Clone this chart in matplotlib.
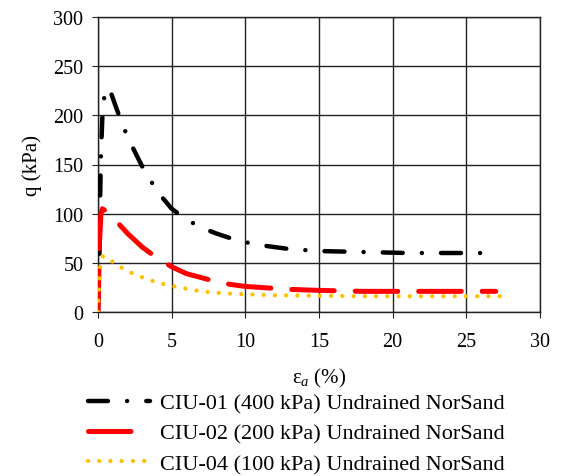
import matplotlib
matplotlib.use("Agg")
import matplotlib.pyplot as plt

# Data
x_ciu01 = [0.0, 0.1, 0.15, 0.2, 0.3, 0.45, 0.6, 0.9, 1.3, 2.0, 3.0, 4.0, 5.0, 6.0, 7.0, 8.0, 9.0, 10.0, 11.5, 13.0, 15.0, 18.0, 21.0, 24.0, 26.7]
q_ciu01 = [0.0, 60.0, 120.0, 160.0, 200.0, 222.0, 228.0, 222.0, 205.0, 178.0, 148.0, 123.0, 105.0, 94.0, 86.0, 80.0, 75.0, 71.0, 67.0, 64.0, 62.0, 61.0, 60.0, 60.0, 60.0]

x_ciu02 = [0.0, 0.1, 0.2, 0.3, 0.5, 0.8, 1.2, 2.0, 3.0, 4.0, 5.0, 6.0, 7.0, 8.0, 9.0, 10.0, 11.0, 13.0, 15.0, 18.0, 21.0, 24.0, 27.0]
q_ciu02 = [0.0, 70.0, 100.0, 105.0, 103.0, 99.0, 93.0, 80.0, 66.0, 55.0, 46.0, 39.0, 35.0, 31.0, 28.0, 26.0, 25.0, 23.0, 22.0, 21.0, 21.0, 21.0, 21.0]

x_ciu04 = [0.0, 0.1, 0.2, 0.35, 0.6, 1.0, 1.5, 2.5, 4.0, 5.5, 7.0, 8.5, 10.0, 12.0, 15.0, 18.0, 22.0, 25.0, 28.0]
q_ciu04 = [0.0, 40.0, 53.0, 57.0, 55.0, 51.0, 46.0, 38.0, 30.0, 25.0, 21.0, 19.0, 18.0, 17.0, 16.5, 16.0, 16.0, 16.0, 16.0]

labels = ["CIU-01 (400 kPa) Undrained NorSand",
          "CIU-02 (200 kPa) Undrained NorSand",
          "CIU-04 (100 kPa) Undrained NorSand"]

xticks = [0, 5, 10, 15, 20, 25, 30]
yticks = [0, 50, 100, 150, 200, 250, 300]

plt.rcParams['font.family'] = ['Liberation Serif', 'DejaVu Serif']
plt.rcParams['mathtext.fontset'] = 'custom'
plt.rcParams['mathtext.rm'] = 'Liberation Serif'
plt.rcParams['mathtext.it'] = 'Liberation Serif:italic'

fig = plt.figure(figsize=(5.65, 4.77), dpi=100)
ax = fig.add_axes([98/565, 1 - 313/477, 442/565, 295/477])

l1, = ax.plot(x_ciu01, q_ciu01, color='black', lw=3.2, dashes=(4.5, 4.3, 0.01, 4.3),
              dash_capstyle='round', label=labels[0], zorder=3)
l2, = ax.plot(x_ciu02, q_ciu02, color='#FF0000', lw=3.6, dashes=(8.5, 4.2),
              dash_capstyle='round', label=labels[1], zorder=3)
l3, = ax.plot(x_ciu04, q_ciu04, color='#FFC000', lw=3.1, dashes=(0.01, 2.6),
              dash_capstyle='round', label=labels[2], zorder=4)

ax.set_xlim(0, 30)
ax.set_ylim(0, 300)
ax.set_xticks(xticks)
ax.set_yticks(yticks)
ax.grid(True, color='#222222', lw=1.0)
ax.set_axisbelow(True)
for s in ax.spines.values():
    s.set_color('#222222')
    s.set_linewidth(1.0)
ax.tick_params(axis='x', labelsize=14.5, length=4, color='#222222', direction='out', pad=10.5)
ax.tick_params(axis='y', labelsize=14.5, length=4, color='#222222', direction='out', pad=6.5)

ax.set_xlabel(r'$\mathrm{\varepsilon}_{a}$ (%)', fontsize=15, labelpad=11)
ax.set_ylabel('q (kPa)', fontsize=15, labelpad=8)

leg = fig.legend(handles=[l1, l2, l3], loc='upper left', bbox_to_anchor=(88/565, 1 - 394/477),
                 frameon=False, fontsize=16, handlelength=2.8, handletextpad=0.45,
                 labelspacing=0.44, borderpad=0, borderaxespad=0)

fig.savefig('out.png', dpi=100)
